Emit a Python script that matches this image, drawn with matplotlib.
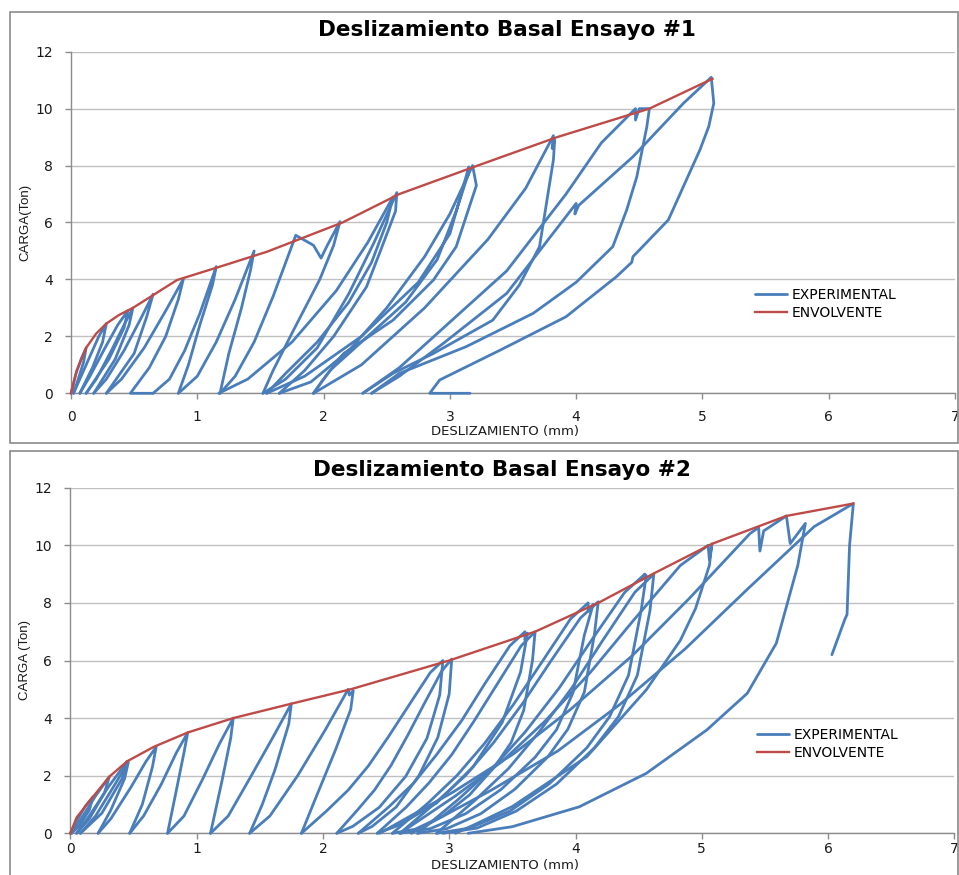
import matplotlib
matplotlib.use("Agg")
import matplotlib.pyplot as plt
from matplotlib.patches import Rectangle

# ---------------- data ----------------
TITLES = ["Deslizamiento Basal Ensayo #1", "Deslizamiento Basal Ensayo #2"]
YLABELS = ["CARGA(Ton)", "CARGA (Ton)"]
XLABEL = "DESLIZAMIENTO (mm)"
SERIES = ["EXPERIMENTAL", "ENVOLVENTE"]
X_TICKS = [0, 1, 2, 3, 4, 5, 6, 7]
Y_TICKS = [0, 2, 4, 6, 8, 10, 12]

ENV1_X = [0, 0.045, 0.12, 0.2, 0.28, 0.38, 0.49, 0.84, 1.18, 1.55, 2.15, 2.6, 3.22, 3.85, 4.58, 5.08]
ENV1_Y = [0, 0.8, 1.6, 2.1, 2.45, 2.75, 3.0, 3.98, 4.45, 4.97, 6.0, 7.0, 8.0, 9.0, 10.0, 11.05]

ENV2_X = [0, 0.05, 0.18, 0.31, 0.45, 0.66, 0.93, 1.29, 1.75, 2.22, 3.0, 3.68, 4.18, 4.61, 5.08, 5.67, 6.2]
ENV2_Y = [0, 0.55, 1.27, 1.97, 2.5, 3.0, 3.5, 4.0, 4.5, 5.0, 6.0, 7.0, 8.0, 9.0, 10.05, 11.02, 11.45]

# experimental load cycles, test 1: (deslizamiento, carga)
EXP1_CYCLES = [
    [(0, 0), (0.04, 0.7), (0.08, 1.2), (0.12, 1.6), (0.1, 1.1), (0.05, 0.4), (0.02, 0)],
    [(0.02, 0), (0.08, 0.6), (0.16, 1.4), (0.22, 2.0), (0.28, 2.45), (0.25, 1.8), (0.17, 0.9), (0.07, 0)],
    [(0.07, 0), (0.15, 0.6), (0.27, 1.6), (0.37, 2.4), (0.45, 2.9), (0.42, 2.3), (0.3, 1.2), (0.12, 0)],
    [(0.12, 0), (0.2, 0.5), (0.32, 1.5), (0.42, 2.4), (0.49, 3.0), (0.46, 2.4), (0.35, 1.2), (0.18, 0)],
    [(0.18, 0), (0.28, 0.5), (0.42, 1.5), (0.55, 2.6), (0.65, 3.48), (0.6, 2.7), (0.5, 1.4), (0.28, 0)],
    [(0.28, 0), (0.4, 0.5), (0.58, 1.6), (0.75, 2.9), (0.89, 4.02), (0.85, 3.3), (0.75, 2.0), (0.62, 0.9),
     (0.47, 0), (0.65, 0)],
    [(0.65, 0), (0.78, 0.5), (0.9, 1.5), (1.02, 2.8), (1.15, 4.45), (1.12, 3.8), (1.02, 2.4), (0.93, 1.0),
     (0.85, 0)],
    [(0.85, 0), (1.0, 0.6), (1.15, 1.8), (1.3, 3.3), (1.45, 5.0), (1.42, 4.3), (1.35, 3.0), (1.25, 1.4),
     (1.18, 0)],
    [(1.18, 0), (1.3, 0.6), (1.45, 1.8), (1.6, 3.4), (1.78, 5.55), (1.92, 5.2), (1.98, 4.75), (2.03, 5.2),
     (2.13, 6.03), (2.08, 5.2), (1.97, 4.0), (1.76, 2.2), (1.6, 0.8), (1.52, 0)],
    [(1.17, 0), (1.4, 0.5), (1.75, 1.8), (2.1, 3.6), (2.35, 5.3), (2.55, 6.9), (2.5, 6.0), (2.38, 4.6),
     (2.2, 3.2), (1.95, 1.8), (1.7, 0.7), (1.55, 0)],
    [(1.52, 0), (1.7, 0.5), (1.95, 1.6), (2.2, 3.5), (2.4, 5.3), (2.58, 7.05), (2.57, 6.4), (2.45, 5.0),
     (2.34, 3.74), (2.08, 2.0), (1.85, 0.8), (1.65, 0)],
    [(1.65, 0), (1.9, 0.4), (2.2, 1.5), (2.5, 3.0), (2.8, 4.8), (3.0, 6.3), (3.18, 8.0), (3.21, 7.3),
     (3.05, 5.15), (2.87, 3.98), (2.55, 2.57), (2.16, 1.4), (2.0, 0.5), (1.92, 0)],
    [(1.55, 0), (1.85, 0.6), (2.3, 2.0), (2.75, 3.9), (3.0, 5.6), (3.15, 7.95), (3.14, 7.6), (3.16, 7.9),
     (3.05, 6.4), (2.9, 4.7), (2.65, 3.2), (2.3, 1.8), (2.05, 0.8), (1.92, 0)],
    [(1.92, 0), (2.3, 1.0), (2.8, 3.0), (3.3, 5.4), (3.6, 7.2), (3.82, 9.05), (3.81, 8.6), (3.83, 8.9),
     (3.82, 8.2), (3.71, 5.15), (3.55, 3.8), (3.34, 2.57), (2.87, 1.4), (2.55, 0.7), (2.31, 0)],
    [(2.31, 0), (2.6, 0.9), (2.95, 2.3), (3.45, 4.3), (3.92, 7.0), (4.2, 8.8), (4.47, 10.0), (4.47, 9.6),
     (4.5, 10.0), (4.58, 10.0), (4.56, 9.37), (4.48, 7.6), (4.4, 6.44), (4.29, 5.15), (4.0, 3.9),
     (3.66, 2.81), (3.13, 1.64), (2.6, 0.7), (2.38, 0)],
    [(2.38, 0), (2.6, 0.6), (2.95, 1.76), (3.45, 3.51), (4.0, 6.67), (3.99, 6.3), (4.02, 6.6), (4.45, 8.31),
     (4.85, 10.19), (5.07, 11.1), (5.09, 10.19), (5.05, 9.37), (4.98, 8.55), (4.73, 6.09), (4.45, 4.8),
     (4.44, 4.6), (4.32, 4.1), (3.92, 2.69), (3.4, 1.52), (2.92, 0.47), (2.84, 0), (3.16, 0)],
]

# experimental load cycles, test 2
EXP2_CYCLES = [
    [(0, 0), (0.06, 0.5), (0.12, 0.95), (0.18, 1.27), (0.15, 0.8), (0.07, 0.25), (0.01, 0)],
    [(0.01, 0), (0.1, 0.6), (0.2, 1.3), (0.31, 1.97), (0.27, 1.4), (0.15, 0.5), (0.05, 0)],
    [(0.05, 0), (0.15, 0.6), (0.3, 1.6), (0.45, 2.5), (0.41, 1.9), (0.25, 0.7), (0.08, 0)],
    [(0.08, 0), (0.2, 0.6), (0.34, 1.6), (0.46, 2.48), (0.43, 1.9), (0.32, 0.8), (0.22, 0)],
    [(0.22, 0), (0.32, 0.5), (0.48, 1.6), (0.6, 2.5), (0.68, 3.0), (0.65, 2.3), (0.57, 1.0), (0.47, 0)],
    [(0.47, 0), (0.58, 0.6), (0.72, 1.7), (0.84, 2.8), (0.93, 3.5), (0.9, 2.8), (0.84, 1.5), (0.77, 0)],
    [(0.77, 0), (0.9, 0.6), (1.05, 1.9), (1.18, 3.1), (1.29, 4.0), (1.27, 3.3), (1.2, 1.8), (1.11, 0)],
    [(1.11, 0), (1.25, 0.6), (1.42, 1.9), (1.6, 3.3), (1.75, 4.5), (1.73, 3.8), (1.62, 2.2), (1.52, 1.0),
     (1.42, 0)],
    [(1.42, 0), (1.58, 0.6), (1.8, 2.0), (2.02, 3.6), (2.2, 5.0), (2.21, 4.8), (2.24, 4.95), (2.22, 4.3),
     (2.1, 2.9), (1.95, 1.3), (1.83, 0)],
    [(1.83, 0), (2.03, 0.78), (2.2, 1.5), (2.36, 2.34), (2.52, 3.36), (2.68, 4.44), (2.85, 5.58), (2.95, 6.0),
     (2.925, 4.8), (2.824, 3.3), (2.656, 1.98), (2.446, 0.9), (2.236, 0.24), (2.11, 0)],
    [(2.11, 0), (2.27, 0.79), (2.41, 1.51), (2.54, 2.36), (2.67, 3.39), (2.8, 4.48), (2.94, 5.63), (3.02, 6.05),
     (3.0, 4.84), (2.91, 3.33), (2.76, 2.0), (2.58, 0.91), (2.39, 0.24), (2.28, 0)],
    [(2.28, 0), (2.52, 0.91), (2.72, 1.75), (2.9, 2.73), (3.1, 3.92), (3.28, 5.18), (3.48, 6.51), (3.6, 7.0),
     (3.6, 6.7), (3.62, 6.95), (3.565, 5.6), (3.42, 3.85), (3.19, 2.31), (2.9, 1.05), (2.6, 0.28), (2.43, 0)],
    [(2.43, 0), (2.66, 0.91), (2.84, 1.75), (3.02, 2.73), (3.2, 3.92), (3.38, 5.18), (3.57, 6.51), (3.68, 7.0),
     (3.66, 6.02), (3.59, 4.27), (3.49, 3.15), (3.36, 2.31), (3.16, 1.33), (2.95, 0.6), (2.73, 0.14), (2.55, 0)],
    [(2.55, 0), (2.83, 1.04), (3.06, 2.0), (3.28, 3.12), (3.51, 4.48), (3.73, 5.92), (3.96, 7.44), (4.1, 8.0),
     (4.1, 7.7), (4.14, 7.95), (4.07, 6.88), (3.98, 4.88), (3.85, 3.6), (3.68, 2.64), (3.41, 1.52),
     (3.13, 0.68), (2.85, 0.16), (2.61, 0)],
    [(2.61, 0), (2.89, 1.05), (3.13, 2.01), (3.35, 3.14), (3.58, 4.5), (3.8, 5.95), (4.04, 7.48), (4.18, 8.04),
     (4.15, 6.91), (4.07, 4.9), (3.94, 3.62), (3.78, 2.65), (3.52, 1.53), (3.25, 0.68), (2.98, 0.16), (2.75, 0)],
    [(2.75, 0), (3.07, 1.17), (3.34, 2.25), (3.6, 3.51), (3.87, 5.04), (4.12, 6.66), (4.39, 8.37), (4.55, 9.0),
     (4.52, 8.8), (4.56, 8.95), (4.52, 7.74), (4.42, 5.49), (4.27, 4.05), (4.09, 2.97), (3.79, 1.71),
     (3.48, 0.77), (3.16, 0.18), (2.9, 0)],
    [(2.9, 0), (3.21, 1.17), (3.47, 2.25), (3.71, 3.51), (3.97, 5.04), (4.21, 6.66), (4.47, 8.37), (4.62, 9.0),
     (4.59, 7.74), (4.49, 5.49), (4.34, 4.05), (4.15, 2.97), (3.85, 1.71), (3.53, 0.77), (3.22, 0.18), (2.95, 0)],
    [(2.61, 0), (3.05, 1.3), (3.42, 2.5), (3.76, 3.9), (4.12, 5.6), (4.46, 7.4), (4.83, 9.3), (5.05, 10.0),
     (5.06, 9.5), (5.08, 10.05), (5.06, 9.3), (4.95, 7.8), (4.83, 6.7), (4.56, 4.98), (4.09, 2.66),
     (3.5, 0.93), (3.2, 0.3), (3.05, 0)],
    [(2.45, 0), (3.03, 1.43), (3.51, 2.76), (3.96, 4.3), (4.45, 6.17), (4.9, 8.15), (5.38, 10.4), (5.45, 10.62),
     (5.46, 9.8), (5.49, 10.5), (5.67, 11.02), (5.7, 10.06), (5.82, 10.76), (5.76, 9.3), (5.59, 6.6),
     (5.36, 4.86), (5.04, 3.59), (4.56, 2.08), (4.03, 0.92), (3.5, 0.23), (3.15, 0)],
    [(2.7, 0), (3.33, 1.49), (3.86, 2.86), (4.35, 4.47), (4.87, 6.41), (5.36, 8.47), (5.89, 10.65), (6.2, 11.45),
     (6.17, 10.0), (6.15, 7.6), (6.13, 7.4), (6.08, 6.8), (6.03, 6.2)],
]

# ---------------- style ----------------
BLUE = "#4A7EBB"
RED = "#BE4B48"
GRID = "#C0C0C0"
AXIS = "#8C8C8C"
TXT = "#1A1A1A"

W, H = 959, 875
fig = plt.figure(figsize=(W / 100, H / 100), dpi=100)
fig.patch.set_facecolor("white")

# chart-area frames (Excel style)
fig.patches.append(Rectangle((10 / W, 1 - 443 / H), 948 / W, 431 / H, transform=fig.transFigure,
                             fill=False, edgecolor="#8A8A8A", linewidth=1.2))
fig.patches.append(Rectangle((10 / W, -0.02), 948 / W, 1 - 451 / H + 0.02, transform=fig.transFigure,
                             fill=False, edgecolor="#8A8A8A", linewidth=1.2))

panels = [
    dict(rect=(71, 51.7, 955, 393.3), env=(ENV1_X, ENV1_Y), cyc=EXP1_CYCLES,
         title_y=30, title_x=507, xl_y=432, yl_x=25, leg=(755, 288), xpad=8.0),
    dict(rect=(70.3, 487.7, 954.4, 833.3), env=(ENV2_X, ENV2_Y), cyc=EXP2_CYCLES,
         title_y=470, title_x=502, xl_y=866, yl_x=25, leg=(757, 728), xpad=2.5),
]

for i, p in enumerate(panels):
    x0, y0, x1, y1 = p["rect"]
    ax = fig.add_axes([x0 / W, 1 - y1 / H, (x1 - x0) / W, (y1 - y0) / H])
    ax.set_xlim(0, 7)
    ax.set_ylim(0, 12)

    first = True
    for cyc in p["cyc"]:
        xs = [pt[0] for pt in cyc]
        ys = [pt[1] for pt in cyc]
        ax.plot(xs, ys, color=BLUE, lw=2.0, solid_joinstyle="round", solid_capstyle="round",
                clip_on=False, zorder=3, label=SERIES[0] if first else None)
        first = False
    ex, ey = p["env"]
    ax.plot(ex, ey, color=RED, lw=1.7, clip_on=False, zorder=4, label=SERIES[1])

    ax.set_xticks(X_TICKS)
    ax.set_yticks(Y_TICKS)
    ax.set_xticklabels([str(t) for t in X_TICKS])
    ax.set_yticklabels([str(t) for t in Y_TICKS])
    ax.grid(axis="y", color=GRID, lw=1.0, zorder=0)
    ax.set_axisbelow(True)
    for s in ("top", "right"):
        ax.spines[s].set_visible(False)
    for s in ("left", "bottom"):
        ax.spines[s].set_color(AXIS)
        ax.spines[s].set_linewidth(1.0)
    ax.tick_params(axis="x", direction="out", length=4, width=1, color=AXIS, pad=p["xpad"],
                   labelsize=10, labelcolor=TXT)
    ax.tick_params(axis="y", direction="out", length=4, width=1, color=AXIS, pad=9,
                   labelsize=10, labelcolor=TXT)
    for lab in ax.get_xticklabels() + ax.get_yticklabels():
        lab.set_fontfamily("DejaVu Sans")

    hh = y1 - y0
    ww = x1 - x0
    ax.text((p["title_x"] - x0) / ww, (y1 - p["title_y"]) / hh, TITLES[i], transform=ax.transAxes,
            ha="center", va="center", fontsize=15.5, fontweight="bold", family="DejaVu Sans", color="black")
    ax.text((505 - x0) / ww, (y1 - p["xl_y"]) / hh, XLABEL, transform=ax.transAxes,
            ha="center", va="center", fontsize=9.5, family="DejaVu Sans", color=TXT)
    ax.text((p["yl_x"] - x0) / ww, 0.5, YLABELS[i], transform=ax.transAxes, rotation=90,
            ha="center", va="center", fontsize=9.5, family="Liberation Sans", color=TXT)

    lx, ly = p["leg"]
    leg = ax.legend(loc="upper left", bbox_to_anchor=((lx - x0) / ww, (y1 - ly) / hh),
                    frameon=False, handlelength=2.3, handletextpad=0.35,
                    borderpad=0, borderaxespad=0, labelspacing=0.3,
                    prop=dict(family="DejaVu Sans", size=10))

fig.savefig("out.png", dpi=100, facecolor="white")
